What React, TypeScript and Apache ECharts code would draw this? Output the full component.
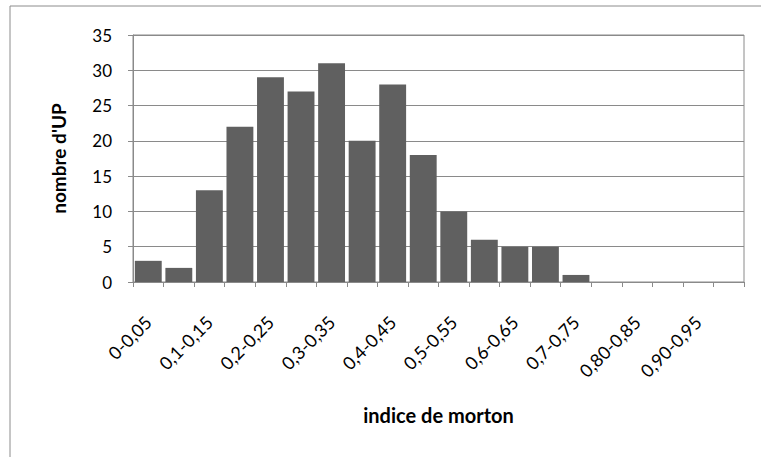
import React, { useEffect, useRef } from "react";
import * as echarts from "echarts";

const categories = [
  "0-0,05", "0,05-0,1", "0,1-0,15", "0,15-0,2", "0,2-0,25", "0,25-0,3",
  "0,3-0,35", "0,35-0,4", "0,4-0,45", "0,45-0,5", "0,5-0,55", "0,55-0,6",
  "0,6-0,65", "0,65-0,7", "0,7-0,75", "0,75-0,80", "0,80-0,85", "0,85-0,90",
  "0,90-0,95", "0,95-1",
];
const counts = [3, 2, 13, 22, 29, 27, 31, 20, 28, 18, 10, 6, 5, 5, 1, 0, 0, 0, 0, 0];
const yTicks = { min: 0, max: 35, interval: 5 };
const xTitle = "indice de morton";
const yTitle = "nombre d'UP";

export default function App() {
  const ref = useRef<HTMLDivElement>(null);
  useEffect(() => {
    if (!ref.current) return;
    const chart = echarts.init(ref.current, null, { renderer: "svg" });
    const font = "Lato, 'Open Sans', sans-serif";
    chart.setOption({
      animation: false,
      backgroundColor: "#ffffff",
      textStyle: { fontFamily: font },
      graphic: [
        {
          type: "rect",
          shape: { x: 10, y: 6, width: 800, height: 500 },
          style: { fill: "none", stroke: "#8c8c8c", lineWidth: 1 },
          silent: true,
          z: -1,
        },
      ],
      grid: {
        left: 133,
        top: 35,
        width: 611,
        height: 247,
        show: true,
        borderColor: "#8a8a8a",
        borderWidth: 1,
        backgroundColor: "transparent",
      },
      xAxis: {
        type: "category",
        data: categories,
        name: xTitle,
        nameLocation: "middle",
        nameGap: 123,
        nameTextStyle: { fontWeight: "bold", fontSize: 20, color: "#000", fontFamily: font },
        axisLine: { lineStyle: { color: "#8a8a8a", width: 1 } },
        axisTick: { show: true, alignWithLabel: false, interval: 0, length: 5, lineStyle: { color: "#8a8a8a" } },
        axisLabel: {
          interval: 1,
          rotate: 45,
          margin: 37,
          fontSize: 18,
          color: "#000",
          fontFamily: font,
        },
        splitLine: { show: false },
      },
      yAxis: {
        type: "value",
        min: yTicks.min,
        max: yTicks.max,
        interval: yTicks.interval,
        name: yTitle,
        nameLocation: "middle",
        nameGap: 65,
        nameRotate: 90,
        nameTextStyle: { fontWeight: "bold", fontSize: 19, color: "#000", fontFamily: font },
        axisLine: { show: true, lineStyle: { color: "#8a8a8a", width: 1 } },
        axisTick: { show: true, length: 5, lineStyle: { color: "#8a8a8a" } },
        axisLabel: { fontSize: 17, color: "#000", margin: 21, fontFamily: font },
        splitLine: { show: true, lineStyle: { color: "#8a8a8a", width: 1 } },
      },
      series: [
        {
          type: "bar",
          data: counts,
          barCategoryGap: "12%",
          itemStyle: { color: "#606060" },
        },
      ],
    });
    return () => chart.dispose();
  }, []);
  return (
    <div
      ref={ref}
      style={{ position: "fixed", left: 0, top: 0, width: 761, height: 457 }}
    />
  );
}
